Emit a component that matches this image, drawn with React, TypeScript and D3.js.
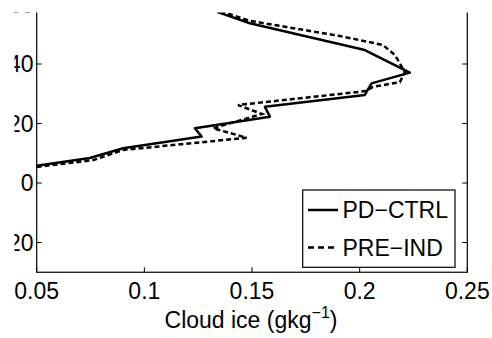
import React from "react";
import * as d3 from "d3";

// PD-CTRL (solid)
const pdY = [5.8, 8.4, 11.7, 15.6, 18.4, 22.3, 25.6, 29.6, 33.5, 37.1, 44.7, 53.7, 57.5];
const pdX = [0.05, 0.0747, 0.0902, 0.1266, 0.1235, 0.1583, 0.156, 0.2024, 0.2055, 0.2233, 0.2024, 0.149, 0.1338];
// PRE-IND (dashed)
const preY = [5.4, 7.7, 11.1, 15.2, 18.4, 23.2, 26.2, 30.9, 32.3, 33.9, 37.3, 43.0, 46.4, 49.4, 54.5, 57.8];
const preX = [0.05, 0.0763, 0.0901, 0.1475, 0.1319, 0.1546, 0.1435, 0.2029, 0.2061, 0.2187, 0.221, 0.2164, 0.2108, 0.1908, 0.1491, 0.135];

const xTicks = [0.05, 0.1, 0.15, 0.2, 0.25];
const xTickLabels = ["0.05", "0.1", "0.15", "0.2", "0.25"];
const yTicks = [-20, 0, 20, 40, 60];
const yTickLabels = ["\u221220", "0", "20", "40", "60"];
const seriesNames = ["PD\u2212CTRL", "PRE\u2212IND"];

const W = 492;
const H = 338;
const L = 36.7, R = 467.3, T = 4.5, B = 272.25;
const FONT = "'Liberation Sans', Arial, Helvetica, sans-serif";

export default function App() {
  const x = d3.scaleLinear().domain([0.05, 0.25]).range([L, R]);
  const y = d3.scaleLinear().domain([-30, 60]).range([B, T]);
  const line = d3
    .line<[number, number]>()
    .x((d) => x(d[0]))
    .y((d) => y(d[1]));
  const pd = line(pdX.map((v, i) => [v, pdY[i]]) as [number, number][]) || "";
  const pre = line(preX.map((v, i) => [v, preY[i]]) as [number, number][]) || "";

  return (
    <div style={{ position: "fixed", left: 0, top: 0 }}>
      <svg width={W} height={H} style={{ display: "block", background: "#fff" }}>
        <defs>
          <clipPath id="plotclip">
            <rect x={L} y={T} width={R - L} height={B - T} />
          </clipPath>
        </defs>
        <g clipPath="url(#plotclip)" fill="none" stroke="#000" strokeWidth={2.5}>
          <path d={pd} strokeLinejoin="round" />
          <path d={pre} strokeDasharray="5,3" />
        </g>
        {/* axes box */}
        <rect x={L} y={T} width={R - L} height={B - T} fill="none" stroke="#000" strokeWidth={1.2} />
        {/* x ticks */}
        {xTicks.map((t, i) => (
          <g key={"xt" + i}>
            <line x1={x(t)} x2={x(t)} y1={B} y2={B - 5} stroke="#000" />
            <line x1={x(t)} x2={x(t)} y1={T} y2={T + 5} stroke="#000" />
            <text x={x(t)} y={299} textAnchor="middle" fontFamily={FONT} fontSize={23}>
              {xTickLabels[i]}
            </text>
          </g>
        ))}
        {/* y ticks */}
        {yTicks.map((t, i) => (
          <g key={"yt" + i}>
            <line x1={L} x2={L + 5} y1={y(t)} y2={y(t)} stroke="#000" />
            <line x1={R} x2={R - 5} y1={y(t)} y2={y(t)} stroke="#000" />
            <text x={33.5} y={y(t) + 8} textAnchor="end" fontFamily={FONT} fontSize={23}>
              {yTickLabels[i]}
            </text>
          </g>
        ))}
        {/* x label */}
        <text x={251} y={328} textAnchor="middle" fontFamily={FONT} fontSize={23}>
          Cloud ice (gkg
          <tspan fontSize={16} dy={-10}>{"\u22121"}</tspan>
          <tspan dy={10}>)</tspan>
        </text>
        {/* legend */}
        <g>
          <rect x={302.7} y={190} width={152.3} height={77.3} fill="#fff" stroke="#000" strokeWidth={1.2} />
          <line x1={308} x2={338} y1={210} y2={210} stroke="#000" strokeWidth={2.5} />
          <line x1={308} x2={338} y1={247.5} y2={247.5} stroke="#000" strokeWidth={2.5} strokeDasharray="6,4" />
          <text x={342.5} y={218} fontFamily={FONT} fontSize={23}>{seriesNames[0]}</text>
          <text x={342.5} y={255.5} fontFamily={FONT} fontSize={23}>{seriesNames[1]}</text>
        </g>
        {/* crop masks (reference is cut at top and left) */}
        <rect x={0} y={0} width={W} height={12.5} fill="#fff" />
        <rect x={0} y={0} width={14.5} height={H} fill="#fff" />
      </svg>
    </div>
  );
}
